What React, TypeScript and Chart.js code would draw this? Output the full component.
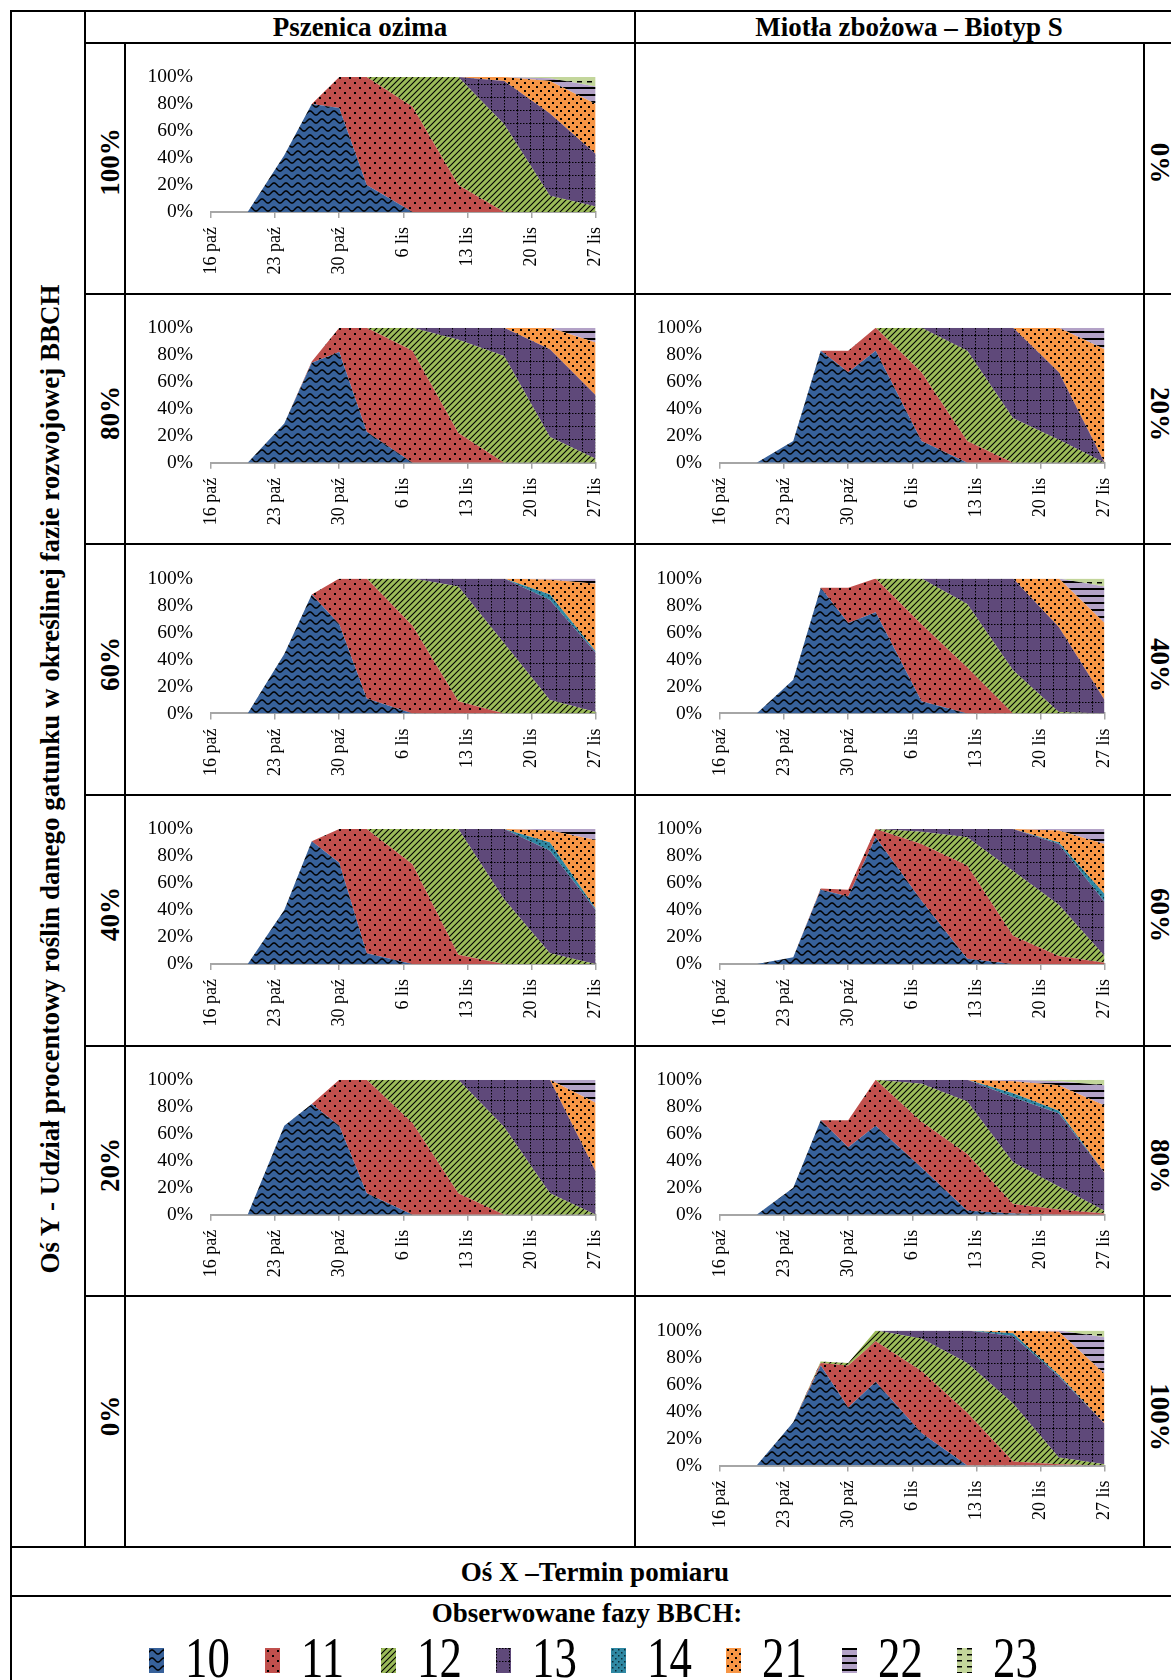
import React, { useEffect, useRef } from 'react';
import { Chart, registerables } from 'chart.js';

Chart.register(...registerables);

// ---------- data ----------
const dayOffsets = [0, 4, 8, 11, 14, 17, 22, 27, 32, 37, 42]; // days after 16 Oct
const tickDays = [0, 7, 14, 21, 28, 35, 42];
const tickLabels = ['16 paź', '23 paź', '30 paź', '6 lis', '13 lis', '20 lis', '27 lis'];
const yTickValues = [0, 20, 40, 60, 80, 100];
const phases = ['10', '11', '12', '13', '14', '21', '22', '23'];

// rows: phases 10, 11, 12, 13, 14, 21, 22, 23
const pszenica100 = [
  [0, 0, 42, 80, 77, 20, 0, 0, 0, 0, 0],
  [0, 0, 0, 0, 23, 80, 78, 20, 0, 0, 0],
  [0, 0, 0, 0, 0, 0, 22, 80, 65, 12, 4],
  [0, 0, 0, 0, 0, 0, 0, 0, 32, 61, 39],
  [0, 0, 0, 0, 0, 0, 0, 0, 0, 0, 0],
  [0, 0, 0, 0, 0, 0, 0, 0, 3, 24, 37],
  [0, 0, 0, 0, 0, 0, 0, 0, 0, 2, 13],
  [0, 0, 0, 0, 0, 0, 0, 0, 0, 1, 7],
];
const pszenica80 = [
  [0, 0, 29, 74, 82, 23, 0, 0, 0, 0, 0],
  [0, 0, 0, 1, 18, 77, 83, 22, 0, 0, 0],
  [0, 0, 0, 0, 0, 0, 17, 69, 79, 19, 3],
  [0, 0, 0, 0, 0, 0, 0, 9, 21, 65, 47],
  [0, 0, 0, 0, 0, 0, 0, 0, 0, 0, 0],
  [0, 0, 0, 0, 0, 0, 0, 0, 0, 16, 39],
  [0, 0, 0, 0, 0, 0, 0, 0, 0, 0, 11],
  [0, 0, 0, 0, 0, 0, 0, 0, 0, 0, 0],
];
const pszenica60 = [
  [0, 0, 44, 88, 66, 11, 0, 0, 0, 0, 0],
  [0, 0, 0, 0, 34, 89, 65, 9, 0, 0, 0],
  [0, 0, 0, 0, 0, 0, 35, 85, 52, 10, 1],
  [0, 0, 0, 0, 0, 0, 0, 6, 48, 74, 44],
  [0, 0, 0, 0, 0, 0, 0, 0, 0, 4, 1],
  [0, 0, 0, 0, 0, 0, 0, 0, 0, 11, 50],
  [0, 0, 0, 0, 0, 0, 0, 0, 0, 1, 4],
  [0, 0, 0, 0, 0, 0, 0, 0, 0, 0, 0],
];
const pszenica40 = [
  [0, 0, 40, 91, 75, 8, 0, 0, 0, 0, 0],
  [0, 0, 0, 0, 25, 92, 74, 7, 0, 0, 0],
  [0, 0, 0, 0, 0, 0, 26, 93, 48, 8, 0],
  [0, 0, 0, 0, 0, 0, 0, 0, 52, 76, 40],
  [0, 0, 0, 0, 0, 0, 0, 0, 0, 6, 1],
  [0, 0, 0, 0, 0, 0, 0, 0, 0, 9, 51],
  [0, 0, 0, 0, 0, 0, 0, 0, 0, 1, 8],
  [0, 0, 0, 0, 0, 0, 0, 0, 0, 0, 0],
];
const pszenica20 = [
  [0, 0, 66, 82, 66, 16, 0, 0, 0, 0, 0],
  [0, 0, 0, 0, 34, 84, 68, 16, 0, 0, 0],
  [0, 0, 0, 0, 0, 0, 32, 84, 65, 16, 0],
  [0, 0, 0, 0, 0, 0, 0, 0, 35, 84, 32],
  [0, 0, 0, 0, 0, 0, 0, 0, 0, 0, 0],
  [0, 0, 0, 0, 0, 0, 0, 0, 0, 0, 51],
  [0, 0, 0, 0, 0, 0, 0, 0, 0, 0, 17],
  [0, 0, 0, 0, 0, 0, 0, 0, 0, 0, 0],
];
const miotla20 = [
  [0, 0, 16, 83, 67, 83, 16, 0, 0, 0, 0],
  [0, 0, 0, 0, 16, 17, 51, 16, 0, 0, 0],
  [0, 0, 0, 0, 0, 0, 33, 67, 33, 17, 0],
  [0, 0, 0, 0, 0, 0, 0, 17, 67, 50, 0],
  [0, 0, 0, 0, 0, 0, 0, 0, 0, 0, 0],
  [0, 0, 0, 0, 0, 0, 0, 0, 0, 33, 84],
  [0, 0, 0, 0, 0, 0, 0, 0, 0, 0, 16],
  [0, 0, 0, 0, 0, 0, 0, 0, 0, 0, 0],
];
const miotla40 = [
  [0, 0, 25, 93, 67, 75, 9, 0, 0, 0, 0],
  [0, 0, 0, 0, 26, 25, 57, 34, 0, 0, 0],
  [0, 0, 0, 0, 0, 0, 34, 47, 32, 1, 0],
  [0, 0, 0, 0, 0, 0, 0, 19, 68, 63, 10],
  [0, 0, 0, 0, 0, 0, 0, 0, 0, 0, 0],
  [0, 0, 0, 0, 0, 0, 0, 0, 0, 36, 57],
  [0, 0, 0, 0, 0, 0, 0, 0, 0, 0, 27],
  [0, 0, 0, 0, 0, 0, 0, 0, 0, 0, 6],
];
const miotla60 = [
  [0, 0, 5, 55, 50, 94, 47, 4, 0, 0, 0],
  [0, 0, 0, 1, 5, 6, 42, 69, 21, 6, 1],
  [0, 0, 0, 0, 0, 0, 9, 21, 48, 38, 5],
  [0, 0, 0, 0, 0, 0, 2, 6, 31, 45, 40],
  [0, 0, 0, 0, 0, 0, 0, 0, 0, 1, 6],
  [0, 0, 0, 0, 0, 0, 0, 0, 0, 9, 37],
  [0, 0, 0, 0, 0, 0, 0, 0, 0, 1, 11],
  [0, 0, 0, 0, 0, 0, 0, 0, 0, 0, 0],
];
const miotla80 = [
  [0, 0, 20, 70, 50, 66, 35, 3, 1, 0, 0],
  [0, 0, 0, 0, 20, 34, 34, 42, 7, 4, 1],
  [0, 0, 0, 0, 0, 0, 28, 39, 31, 17, 2],
  [0, 0, 0, 0, 0, 0, 3, 16, 48, 54, 28],
  [0, 0, 0, 0, 0, 0, 0, 0, 3, 2, 0],
  [0, 0, 0, 0, 0, 0, 0, 0, 9, 19, 50],
  [0, 0, 0, 0, 0, 0, 0, 0, 1, 3, 15],
  [0, 0, 0, 0, 0, 0, 0, 0, 0, 1, 4],
];
const miotla100 = [
  [0, 0, 32, 74, 43, 62, 24, 0, 0, 0, 0],
  [0, 0, 0, 2, 31, 30, 46, 39, 3, 1, 0],
  [0, 0, 0, 1, 2, 8, 24, 37, 43, 5, 1],
  [0, 0, 0, 0, 0, 0, 6, 24, 50, 60, 30],
  [0, 0, 0, 0, 0, 0, 0, 0, 2, 1, 0],
  [0, 0, 0, 0, 0, 0, 0, 0, 2, 32, 37],
  [0, 0, 0, 0, 0, 0, 0, 0, 0, 1, 27],
  [0, 0, 0, 0, 0, 0, 0, 0, 0, 0, 5],
];

const leftRowLabels = ['100%', '80%', '60%', '40%', '20%', '0%'];
const rightRowLabels = ['0%', '20%', '40%', '60%', '80%', '100%'];
const leftCharts = [pszenica100, pszenica80, pszenica60, pszenica40, pszenica20, null];
const rightCharts = [null, miotla20, miotla40, miotla60, miotla80, miotla100];

// ---------- patterns ----------
type Tile = { bg: string; w: number; h: number; draw: (c: CanvasRenderingContext2D) => void };
const tileDefs: Tile[] = [
  {
    bg: '#37619a', w: 12, h: 8,
    draw: (c) => {
      c.strokeStyle = '#000'; c.lineWidth = 1.5; c.beginPath();
      for (let x = -1; x <= 13; x += 0.5) {
        const y = 4 - 2 * Math.sin((x / 12) * Math.PI * 2);
        if (x === -1) c.moveTo(x, y); else c.lineTo(x, y);
      }
      c.stroke();
    },
  },
  {
    bg: '#c0504d', w: 10, h: 10,
    draw: (c) => { c.fillStyle = '#000'; c.fillRect(2, 2, 2, 2); c.fillRect(7, 7, 2, 2); },
  },
  {
    bg: '#9bbb59', w: 6, h: 6,
    draw: (c) => {
      c.strokeStyle = '#000'; c.lineWidth = 1.1; c.beginPath();
      c.moveTo(-1, 7); c.lineTo(7, -1);
      c.moveTo(-1, 1); c.lineTo(1, -1);
      c.moveTo(5, 7); c.lineTo(7, 5);
      c.stroke();
    },
  },
  {
    bg: '#5f497a', w: 13, h: 13,
    draw: (c) => {
      c.fillStyle = '#000';
      for (let i = 0; i < 13; i += 3) { c.fillRect(i, 0, 1.5, 1); c.fillRect(0, i, 1, 1.5); }
    },
  },
  {
    bg: '#2f88a3', w: 6, h: 6,
    draw: (c) => { c.fillStyle = '#0b2a36'; c.fillRect(1, 1, 1.5, 1.5); c.fillRect(4, 4, 1.5, 1.5); },
  },
  {
    bg: '#f79646', w: 8, h: 8,
    draw: (c) => { c.fillStyle = '#000'; c.fillRect(1, 1, 2, 2); c.fillRect(5, 5, 2, 2); },
  },
  {
    bg: '#b3a2c7', w: 4, h: 7,
    draw: (c) => { c.fillStyle = '#000'; c.fillRect(0, 0, 4, 2); },
  },
  {
    bg: '#c3d69b', w: 10, h: 6,
    draw: (c) => { c.fillStyle = '#000'; c.fillRect(0, 0, 5, 1.5); },
  },
];

let tileCache: HTMLCanvasElement[] | null = null;
function getTiles(): HTMLCanvasElement[] {
  if (tileCache) return tileCache;
  tileCache = tileDefs.map((t) => {
    const cv = document.createElement('canvas');
    cv.width = t.w; cv.height = t.h;
    const c = cv.getContext('2d')!;
    c.fillStyle = t.bg; c.fillRect(0, 0, t.w, t.h);
    t.draw(c);
    return cv;
  });
  return tileCache;
}

// ---------- layout ----------
const rowY = [42.9, 293.6, 544.3, 795.0, 1045.7, 1296.4, 1547.1];
const FONT = '"Liberation Serif", "Times New Roman", serif';
const LINE = 2;
const BLACK = '#000';

type ChartBoxProps = { series: number[][]; left: number; width: number; plotLeft: number; plotRight: number; row: number };

function ChartBox({ series, left, width, plotLeft, plotRight, row }: ChartBoxProps) {
  const ref = useRef<HTMLCanvasElement>(null);
  const top = Math.round(rowY[row] + 2);
  const height = 246;
  const plotTop = 77 + 250.7 * row;
  const plotBottom = 212 + 250.7 * row;
  useEffect(() => {
    const canvas = ref.current!;
    const ctx = canvas.getContext('2d')!;
    const tiles = getTiles();
    const yAxisWidth = plotLeft - left;
    const xAxisHeight = top + height - plotBottom;
    const chart = new Chart(canvas, {
      type: 'line',
      data: {
        datasets: series.map((vals, i) => ({
          label: phases[i],
          data: vals.map((v, j) => ({ x: dayOffsets[j], y: v })),
          backgroundColor: ctx.createPattern(tiles[i], 'repeat') as any,
          borderColor: 'rgba(0,0,0,0)',
          borderWidth: 0,
          pointRadius: 0,
          tension: 0,
          fill: i === 0 ? 'origin' : '-1',
        })),
      },
      options: {
        animation: false,
        responsive: false,
        maintainAspectRatio: false,
        events: [],
        layout: { padding: { top: plotTop - top, right: left + width - plotRight, left: 0, bottom: 0 } },
        plugins: { legend: { display: false }, tooltip: { enabled: false } },
        scales: {
          x: {
            type: 'linear',
            min: 0,
            max: 42,
            afterBuildTicks: (s: any) => { s.ticks = tickDays.map((v) => ({ value: v })); },
            afterFit: (s: any) => { s.height = xAxisHeight; },
            ticks: {
              autoSkip: false,
              minRotation: 90,
              maxRotation: 90,
              padding: 9,
              color: '#000',
              font: { family: FONT, size: 18 },
              callback: (v: any) => tickLabels[tickDays.indexOf(Number(v))] ?? '',
            },
            grid: { drawOnChartArea: false, drawTicks: true, tickLength: 6, color: '#a6a6a6', lineWidth: 1.5 },
            border: { display: true, color: '#a6a6a6', width: 2 },
          },
          y: {
            stacked: true,
            min: 0,
            max: 100,
            afterBuildTicks: (s: any) => { s.ticks = yTickValues.map((v) => ({ value: v })); },
            afterFit: (s: any) => { s.width = yAxisWidth; },
            ticks: {
              padding: 18,
              color: '#000',
              font: { family: FONT, size: 19.5 },
              callback: (v: any) => `${v}%`,
            },
            grid: { display: false, drawTicks: false },
            border: { display: false },
          },
        },
      },
    });
    return () => chart.destroy();
  }, [series, left, width, plotLeft, plotRight, row]);
  return (
    <canvas
      ref={ref}
      width={width}
      height={height}
      style={{ position: 'absolute', left, top, width, height }}
    />
  );
}

function Text({ cx, cy, text, size = 27, bold = true, rot = 0, sx = 1 }: { cx: number; cy: number; text: string; size?: number; bold?: boolean; rot?: number; sx?: number }) {
  return (
    <div
      style={{
        position: 'absolute',
        left: cx,
        top: cy,
        transform: `translate(-50%, -50%) rotate(${rot}deg) scaleX(${sx})`,
        whiteSpace: 'nowrap',
        fontFamily: FONT,
        fontWeight: bold ? 'bold' : 'normal',
        fontSize: size,
        lineHeight: 1,
        color: BLACK,
      }}
    >
      {text}
    </div>
  );
}

function HLine({ x1, x2, y }: { x1: number; x2: number; y: number }) {
  return <div style={{ position: 'absolute', left: x1 - LINE / 2, top: y - LINE / 2, width: x2 - x1 + LINE, height: LINE, background: BLACK }} />;
}
function VLine({ y1, y2, x }: { y1: number; y2: number; x: number }) {
  return <div style={{ position: 'absolute', left: x - LINE / 2, top: y1 - LINE / 2, width: LINE, height: y2 - y1 + LINE, background: BLACK }} />;
}

function Swatch({ idx, left, top }: { idx: number; left: number; top: number }) {
  const ref = useRef<HTMLCanvasElement>(null);
  useEffect(() => {
    const c = ref.current!.getContext('2d')!;
    const p = c.createPattern(getTiles()[idx], 'repeat')!;
    c.fillStyle = p;
    c.fillRect(0, 0, 15, 25);
  }, [idx]);
  return <canvas ref={ref} width={15} height={25} style={{ position: 'absolute', left, top, width: 15, height: 25 }} />;
}

const legendLefts = [149, 265, 381, 496, 611, 726, 842, 957];

export default function App() {
  const rowCenters = rowY.slice(0, 6).map((y, i) => (y + rowY[i + 1]) / 2);
  return (
    <div style={{ position: 'absolute', left: 0, top: 0, width: 1171, height: 1680, overflow: 'hidden', background: '#fff' }}>
      {/* grid lines */}
      <HLine x1={10.7} x2={1180} y={10.7} />
      <HLine x1={84.6} x2={1180} y={42.9} />
      {rowY.slice(1, 6).map((y) => <HLine key={y} x1={84.6} x2={1180} y={y} />)}
      <HLine x1={10.7} x2={1180} y={1547.1} />
      <HLine x1={10.7} x2={1180} y={1596.3} />
      <VLine x={10.7} y1={10.7} y2={1690} />
      <VLine x={84.6} y1={10.7} y2={1547.1} />
      <VLine x={125.4} y1={42.9} y2={1547.1} />
      <VLine x={635.3} y1={10.7} y2={1547.1} />
      <VLine x={1144} y1={42.9} y2={1547.1} />

      {/* headers */}
      <Text cx={360} cy={27} text="Pszenica ozima" />
      <Text cx={909} cy={27} text="Miotła zbożowa – Biotyp S" />
      <Text cx={50} cy={779} rot={-90} text="Oś Y - Udział procentowy roślin danego gatunku w określinej fazie rozwojowej BBCH" />

      {leftRowLabels.map((t, i) => <Text key={'l' + i} cx={110} cy={rowCenters[i] - 6} rot={-90} text={t} />)}
      {rightRowLabels.map((t, i) => <Text key={'r' + i} cx={1159} cy={rowCenters[i] - 5} rot={90} text={t} />)}

      {leftCharts.map((s, i) => s && (
        <ChartBox key={'lc' + i} series={s} row={i} left={127} width={506} plotLeft={211} plotRight={595.7} />
      ))}
      {rightCharts.map((s, i) => s && (
        <ChartBox key={'rc' + i} series={s} row={i} left={637} width={505} plotLeft={720} plotRight={1104.6} />
      ))}

      <Text cx={595} cy={1572} text="Oś X –Termin pomiaru" />
      <Text cx={587} cy={1613} text="Obserwowane fazy BBCH:" />

      {phases.map((p, i) => (
        <React.Fragment key={'lg' + p}>
          <Swatch idx={i} left={legendLefts[i]} top={1648} />
          <div
            style={{
              position: 'absolute',
              left: legendLefts[i] + 36,
              top: 1630,
              fontFamily: FONT,
              fontSize: 56,
              lineHeight: 1,
              transform: 'scaleX(0.8)',
              transformOrigin: 'left center',
              whiteSpace: 'nowrap',
              color: BLACK,
            }}
          >
            {p}
          </div>
        </React.Fragment>
      ))}
    </div>
  );
}
